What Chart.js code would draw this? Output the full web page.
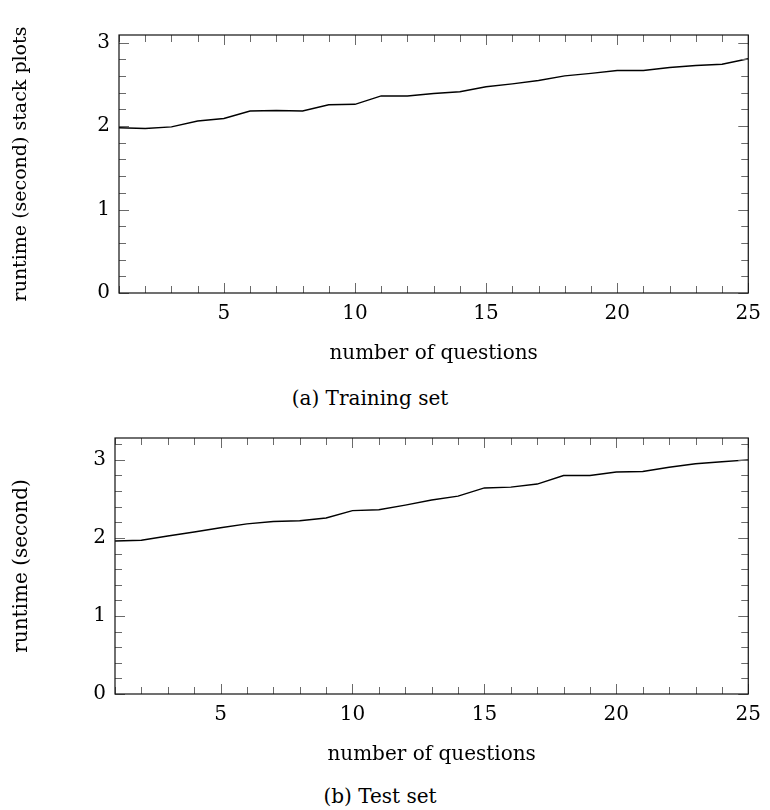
<!DOCTYPE html>
<html>
<head>
<meta charset="utf-8">
<script src="https://cdn.jsdelivr.net/npm/chart.js@4/dist/chart.umd.min.js"></script>
<style>
  html, body { margin: 0; padding: 0; background: #fff; }
  body { width: 770px; height: 810px; position: relative; overflow: hidden; font-family: 'DejaVu Serif', serif; }
  canvas { position: absolute; left: 0; }
  .caption { position: absolute; width: 300px; text-align: center; font-size: 20px; line-height: 24px; color: #000; }
</style>
</head>
<body>
<canvas id="chart-train" width="770" height="370" style="top:0"></canvas>
<div class="caption" style="left:220px; top:386px">(a) Training set</div>
<canvas id="chart-test" width="770" height="361" style="top:410px"></canvas>
<div class="caption" style="left:230px; top:784px">(b) Test set</div>

<script>
// ── data ──
const questions = [1, 2, 3, 4, 5, 6, 7, 8, 9, 10, 11, 12, 13, 14, 15, 16, 17, 18, 19, 20, 21, 22, 23, 24, 25];
const trainingRuntime = [1.98, 1.97, 1.99, 2.06, 2.09, 2.18, 2.185, 2.18, 2.255, 2.26, 2.36, 2.36, 2.39,
                         2.41, 2.47, 2.505, 2.545, 2.60, 2.63, 2.665, 2.665, 2.70, 2.725, 2.74, 2.805];
const testRuntime = [1.96, 1.97, 2.025, 2.075, 2.13, 2.18, 2.21, 2.22, 2.255, 2.35, 2.36, 2.42, 2.485,
                     2.535, 2.64, 2.65, 2.69, 2.80, 2.80, 2.845, 2.85, 2.905, 2.95, 2.975, 3.00];
const xMajorEvery = 5;
const yStep = 0.2;

const FONT = { family: "'DejaVu Serif', serif", size: 20 };
const isWhole = v => Math.abs(v - Math.round(v)) < 1e-6;

// pgfplots style: ticks pointing inward on all four sides + closed box
const innerTicks = {
  id: 'innerTicks',
  afterDatasetsDraw(chart) {
    const { ctx, chartArea: a, scales: { x, y } } = chart;
    ctx.save();
    ctx.strokeStyle = '#6a6a6a';
    ctx.lineWidth = 1;
    ctx.beginPath();
    x.ticks.forEach(t => {
      const px = Math.round(x.getPixelForValue(t.value)) + 0.5;
      const len = t.value % xMajorEvery === 0 ? 10 : 7;
      ctx.moveTo(px, a.bottom); ctx.lineTo(px, a.bottom - len);
      ctx.moveTo(px, a.top);    ctx.lineTo(px, a.top + len);
    });
    y.ticks.forEach(t => {
      const py = Math.round(y.getPixelForValue(t.value)) + 0.5;
      const len = isWhole(t.value) ? 10 : 7;
      ctx.moveTo(a.left, py);  ctx.lineTo(a.left + len, py);
      ctx.moveTo(a.right, py); ctx.lineTo(a.right - len, py);
    });
    ctx.stroke();
    ctx.strokeStyle = '#111';
    ctx.lineWidth = 1.2;
    ctx.strokeRect(a.left, a.top, a.right - a.left, a.bottom - a.top);
    ctx.restore();
  }
};

function makeChart(id, values, cfg) {
  return new Chart(document.getElementById(id), {
    type: 'line',
    data: {
      datasets: [{
        data: questions.map((q, i) => ({ x: q, y: values[i] })),
        borderColor: '#000',
        borderWidth: 1.4,
        pointRadius: 0,
        tension: 0,
        fill: false
      }]
    },
    options: {
      responsive: false,
      animation: false,
      devicePixelRatio: 1,
      layout: { padding: { top: cfg.top, right: cfg.right, left: 0, bottom: 0 } },
      plugins: { legend: { display: false }, tooltip: { enabled: false } },
      scales: {
        x: {
          type: 'linear',
          min: 1, max: 25,
          grid: { display: false, drawTicks: false },
          border: { display: false },
          ticks: {
            stepSize: 1, autoSkip: false, maxRotation: 0, includeBounds: false,
            padding: 9, color: '#000', font: FONT,
            callback: v => (v % xMajorEvery === 0 ? String(v) : '')
          },
          title: { display: true, text: 'number of questions', color: '#000', font: FONT, padding: { top: 0, bottom: 4 } },
          afterFit: s => { s.height = cfg.xHeight; }
        },
        y: {
          min: 0, max: cfg.yMax,
          grid: { display: false, drawTicks: false },
          border: { display: false },
          ticks: {
            stepSize: yStep, autoSkip: false, includeBounds: false,
            padding: 9, color: '#000', font: FONT,
            callback: v => (isWhole(v) ? String(Math.round(v)) : '')
          },
          title: { display: true, text: cfg.yTitle, color: '#000', font: { ...FONT, size: cfg.yTitleSize }, padding: { top: 10, bottom: 0 } },
          afterFit: s => { s.width = cfg.left; }
        }
      }
    },
    plugins: [innerTicks]
  });
}

makeChart('chart-train', trainingRuntime, {
  yTitle: 'runtime (second) stack plots', yTitleSize: 19, yMax: 3.09,
  top: 35, right: 17, left: 119, xHeight: 77
});
makeChart('chart-test', testRuntime, {
  yTitle: 'runtime (second)', yTitleSize: 20, yMax: 3.28,
  top: 28, right: 19, left: 115, xHeight: 77
});
</script>
</body>
</html>
